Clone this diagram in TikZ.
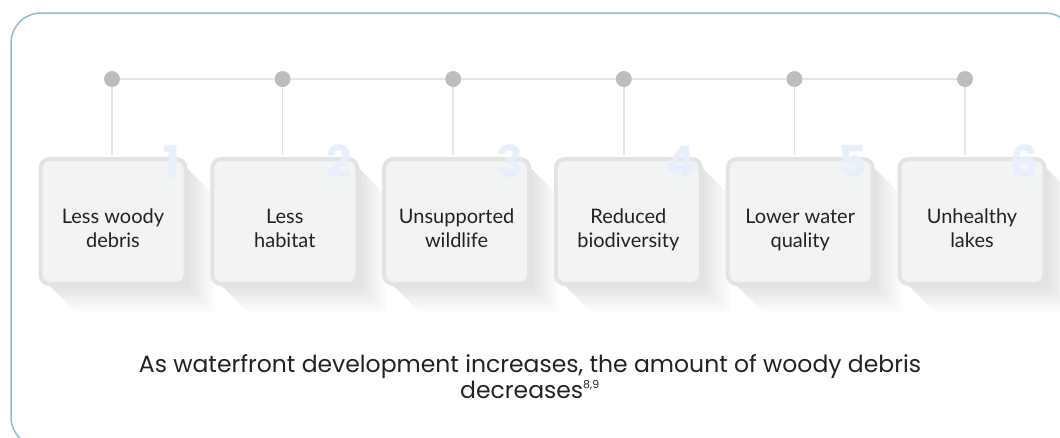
\documentclass[tikz,border=0pt]{standalone}
\usepackage{fontspec}
\setmainfont{Lato}
\newfontfamily\capfont{Poppins}
\usepackage{tikz}
\usepackage{xcolor}
\usetikzlibrary{positioning}

\definecolor{framecol}{HTML}{8FBDD0}
\definecolor{linkcol}{HTML}{DCE6EE}
\definecolor{dotcol}{HTML}{BDBDBD}
\definecolor{cardfill}{HTML}{F2F4F4}
\definecolor{cardedge}{HTML}{E2E3E3}
\definecolor{numcol}{HTML}{E8EFFC}
\definecolor{txtcol}{HTML}{222222}

\begin{document}
\begin{tikzpicture}[x=1pt,y=-1pt,
  card/.style={draw=cardedge,line width=4pt,fill=cardfill,rounded corners=9pt,
    minimum width=145pt,minimum height=125pt,inner sep=0pt},
  cardtext/.style={anchor=base,align=center,text=txtcol,font=\fontsize{20}{24}\selectfont,inner sep=0pt},
  num/.style={anchor=base east,text=numcol,inner sep=0pt,font=\capfont\bfseries\fontsize{44}{44}\selectfont},
  dot/.style={circle,fill=dotcol,minimum size=16pt,inner sep=0pt},
  link/.style={draw=linkcol,line width=1.5pt}]
\useasboundingbox (0,0) rectangle (1060,437);
\clip (0,0) rectangle (1060,437);

% outer frame
\draw[framecol,line width=1.5pt,rounded corners=30pt] (11,13) rectangle (1075,447);

% long shadows
\foreach \cx in {113,284.8,456.6,628.4,800.2,972}
  \foreach \d in {4,8,...,28}
    \fill[black,opacity=0.014] (\cx+73,167) -- ++(\d,\d) -- (\cx+73+\d,284+\d)
      -- (\cx-65+\d,284+\d) -- (\cx-65,284) -- cycle;

% dots
\node (d1) at (112,79) [dot]{};
\node (d2) at (282.6,79) [dot]{};
\node (d3) at (453.2,79) [dot]{};
\node (d4) at (623.8,79) [dot]{};
\node (d5) at (794.4,79) [dot]{};
\node (d6) at (965,79) [dot]{};

% cards
\node (c1) at (113,221.5) [card]{};
\node (c2) at (284.8,221.5) [card]{};
\node (c3) at (456.6,221.5) [card]{};
\node (c4) at (628.4,221.5) [card]{};
\node (c5) at (800.2,221.5) [card]{};
\node (c6) at (972,221.5) [card]{};

\node (t1) at (113,247) [cardtext]{Less woody\\debris};
\node (t2) at (284.8,247) [cardtext]{Less\\habitat};
\node (t3) at (456.6,247) [cardtext]{Unsupported\\wildlife};
\node (t4) at (628.4,247) [cardtext]{Reduced\\biodiversity};
\node (t5) at (800.2,247) [cardtext]{Lower water\\quality};
\node (t6) at (972,247) [cardtext]{Unhealthy\\lakes};

\node (n1) at (180,177) [num]{1};
\node (n2) at (351.8,177) [num]{2};
\node (n3) at (523.6,177) [num]{3};
\node (n4) at (695.4,177) [num]{4};
\node (n5) at (867.2,177) [num]{5};
\node (n6) at (1039,177) [num]{6};

% connectors
\draw[link] (d1) -- (d2);
\draw[link] (d2) -- (d3);
\draw[link] (d3) -- (d4);
\draw[link] (d4) -- (d5);
\draw[link] (d5) -- (d6);
\draw[link,shorten >=2pt] (d1) -- (d1 |- c1.north);
\draw[link,shorten >=2pt] (d2) -- (d2 |- c2.north);
\draw[link,shorten >=2pt] (d3) -- (d3 |- c3.north);
\draw[link,shorten >=2pt] (d4) -- (d4 |- c4.north);
\draw[link,shorten >=2pt] (d5) -- (d5 |- c5.north);
\draw[link,shorten >=2pt] (d6) -- (d6 |- c6.north);

\node (cap) at (530,398) [anchor=base,align=center,text=txtcol,
  font=\capfont\fontsize{23.5}{26}\selectfont]
  {As waterfront development increases, the amount of woody debris\\
   decreases\textsuperscript{\fontsize{11}{11}\selectfont 8,9}};
\end{tikzpicture}
\end{document}
